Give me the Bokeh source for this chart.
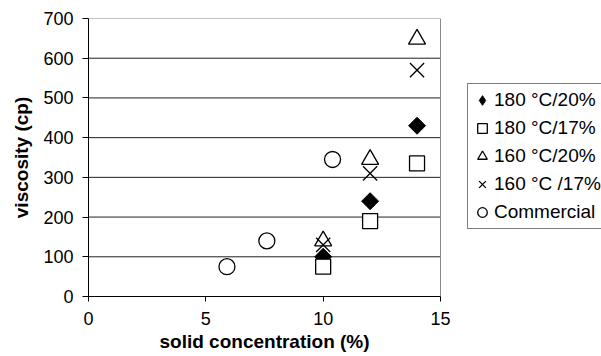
import math
from bokeh.plotting import figure
from bokeh.models import Legend, LegendItem, Range1d, FixedTicker, Title
from bokeh.embed import file_html
from bokeh.resources import INLINE

# ---- data ----
conc = [10, 12, 14]
visc_180_20 = [100, 240, 430]
visc_180_17 = [75, 190, 335]
visc_160_20 = [140, 345, 648]
visc_160_17 = [130, 310, 570]
comm_conc = [5.9, 7.6, 10.4]
comm_visc = [75, 140, 345]
labels = ["180 \u00b0C/20%", "180 \u00b0C/17%", "160 \u00b0C/20%", "160 \u00b0C /17%", "Commercial"]
x_ticks = [0, 5, 10, 15]
y_ticks = [0, 100, 200, 300, 400, 500, 600, 700]

FONT = "Liberation Sans"

W, H = 601, 356
LEFT, TOP, BOTTOM = 88, 18, 60
PLOT_W = 352  # pixel width of the plotted area (0..15)
frame_w = W - LEFT
x_end = x_ticks[-1] * frame_w / PLOT_W

p = figure(width=W, height=H, output_backend="svg", toolbar_location=None,
           x_range=Range1d(x_ticks[0], x_end), y_range=Range1d(y_ticks[0], y_ticks[-1]),
           min_border_left=LEFT, min_border_right=0, min_border_top=TOP,
           min_border_bottom=BOTTOM)
p.background_fill_color = "white"
p.border_fill_color = "white"
p.outline_line_color = None
p.xgrid.grid_line_color = None
p.ygrid.grid_line_color = None

# gridlines and plot-area border limited to the data area
p.segment(x0=x_ticks[0], x1=x_ticks[-1], y0=y_ticks[1:-1], y1=y_ticks[1:-1],
          line_color="#202020", line_width=1)
p.segment(x0=[x_ticks[0], x_ticks[-1]], x1=[x_ticks[-1], x_ticks[-1]],
          y0=[y_ticks[-1], y_ticks[0]], y1=[y_ticks[-1], y_ticks[-1]],
          line_color="#8a8a8a", line_width=1)

for ax in (p.xaxis[0], p.yaxis[0]):
    ax.axis_line_color = "black"
    ax.major_tick_line_color = "black"
    ax.minor_tick_line_color = None
    ax.major_tick_in = 0
    ax.major_label_text_font = FONT
    ax.major_label_text_font_size = "18px"
    ax.major_label_text_color = "black"
    ax.axis_label_text_font = FONT
    ax.axis_label_text_font_size = "19px"
    ax.axis_label_text_font_style = "bold"
    ax.axis_label_text_color = "black"

p.xaxis.ticker = FixedTicker(ticks=x_ticks)
p.yaxis.ticker = FixedTicker(ticks=y_ticks)
p.xaxis.bounds = (x_ticks[0], x_ticks[-1])
p.xaxis.major_tick_out = 5
p.yaxis.major_tick_out = 6
p.xaxis.major_label_standoff = 10
p.yaxis.major_label_standoff = 9
p.yaxis.axis_label = "viscosity (cp)"
p.yaxis.axis_label_standoff = 8

xlabel = Title(text="solid concentration (%)", align="left", offset=71,
               text_font=FONT, text_font_size="19px", text_font_style="bold",
               text_color="black", standoff=2)
p.add_layout(xlabel, "below")

r1 = p.scatter(conc, visc_180_20, marker="square", angle=math.pi / 4, size=12,
               fill_color="black", line_color="black")
r2 = p.scatter(conc, visc_180_17, marker="square", size=15,
               fill_color="white", line_color="black", line_width=1.3)
r3 = p.scatter(conc, visc_160_20, marker="triangle", size=17,
               fill_color=None, line_color="black", line_width=1.3)
r4 = p.scatter(conc, visc_160_17, marker="x", size=20,
               line_color="black", line_width=1.3)
r5 = p.scatter(comm_conc, comm_visc, marker="circle", size=16,
               fill_color="white", line_color="black", line_width=1.3)
# legend key for the diamond series (legend keys ignore marker angle);
# hidden in the plot, shown only in the legend
r1_key = p.scatter(conc, visc_180_20, marker="diamond", size=14,
                   fill_color="black", line_color="black", visible=False)

legend = Legend(items=[LegendItem(label=l, renderers=[r]) for l, r in
                       zip(labels, [r1_key, r2, r3, r4, r5])],
                location=(379, 67))
legend.label_text_font = FONT
legend.label_text_font_size = "19px"
legend.label_text_color = "black"
legend.border_line_color = "black"
legend.border_line_width = 1
legend.background_fill_color = "white"
legend.background_fill_alpha = 1
legend.inactive_fill_alpha = 0
legend.padding = 2
legend.spacing = 0
legend.glyph_width = 24
legend.glyph_height = 28
legend.label_height = 28
legend.label_standoff = -6
legend.margin = 0
p.add_layout(legend)

open("out.html", "w").write(file_html(p, INLINE))
